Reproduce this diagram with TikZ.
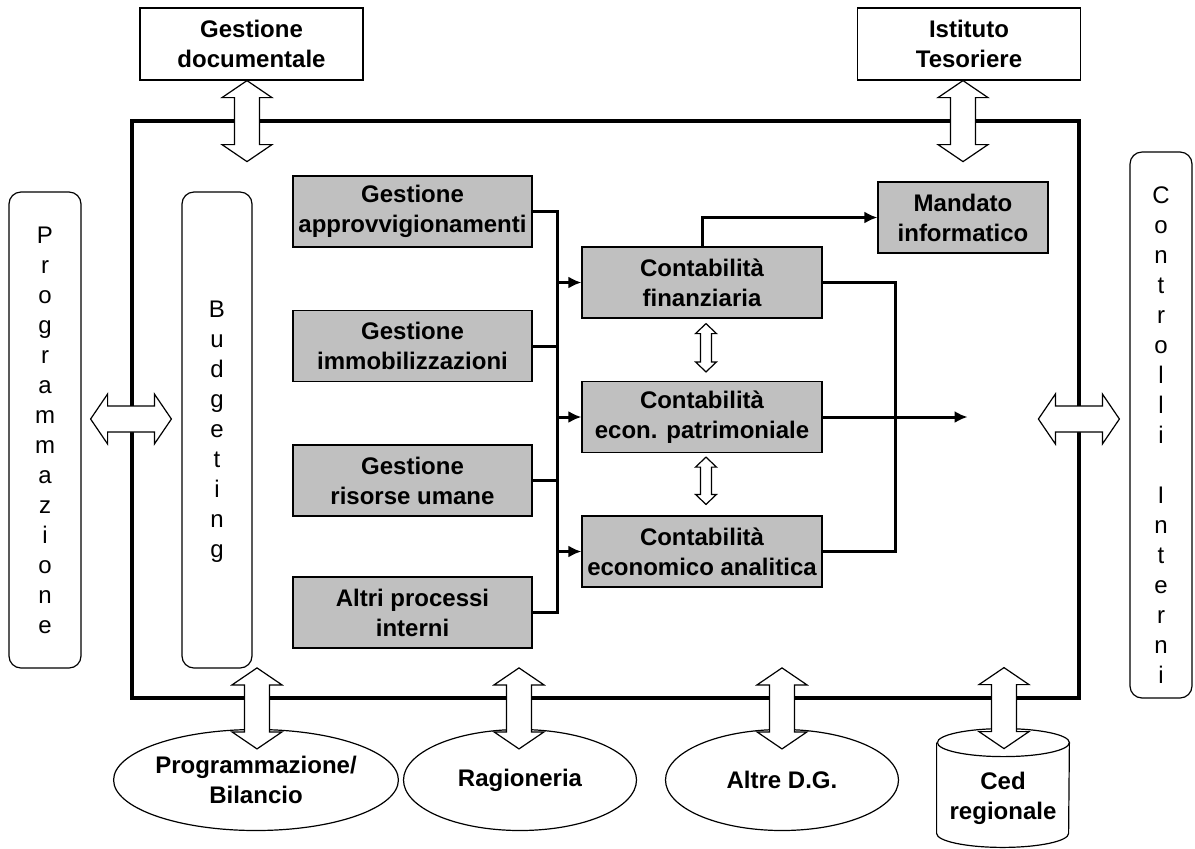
\documentclass[tikz,border=0pt]{standalone}
\usepackage{fontspec}
\setmainfont{Liberation Sans}
\usepackage{tikz}
\usetikzlibrary{shapes, arrows, arrows.meta, calc, positioning}

\definecolor{boxgray}{HTML}{C0C0C0}

% white double block arrows, drawn between two points
\newcommand{\dblV}[5]{%
	\filldraw[blockarr] let \p1=#1, \p2=#2 in
		(\x1,\y1) -- (\x1+#3,\y1-#5) -- (\x1+#4,\y1-#5) -- (\x1+#4,\y2+#5) -- (\x1+#3,\y2+#5)
		-- (\x1,\y2) -- (\x1-#3,\y2+#5) -- (\x1-#4,\y2+#5) -- (\x1-#4,\y1-#5) -- (\x1-#3,\y1-#5) -- cycle;}
\newcommand{\dblH}[5]{%
	\filldraw[blockarr] let \p1=#1, \p2=#2 in
		(\x1,\y1) -- (\x1+#5,\y1+#3) -- (\x1+#5,\y1+#4) -- (\x2-#5,\y1+#4) -- (\x2-#5,\y1+#3)
		-- (\x2,\y1) -- (\x2-#5,\y1-#3) -- (\x2-#5,\y1-#4) -- (\x1+#5,\y1-#4) -- (\x1+#5,\y1-#3) -- cycle;}

\begin{document}
\begin{tikzpicture}[>={Latex[length=6.5pt,width=6pt]}, x=0.5pt, y=-0.5pt, font=\fontsize{12}{15}\selectfont]
	\tikzstyle{extbox} = [draw, line width=0.6pt, fill=white, align=center, font=\fontsize{12}{15}\selectfont\bfseries, minimum width=111.5pt, minimum height=36pt, inner sep=0pt]
	\tikzstyle{procbox} = [draw, line width=0.6pt, fill=boxgray, align=center, font=\fontsize{12}{15}\selectfont\bfseries, minimum width=119.5pt, minimum height=35.5pt, inner sep=0pt]
	\tikzstyle{sidebox} = [draw, line width=0.6pt, rounded corners=6pt, align=center, minimum height=238pt, inner sep=0pt]
	\tikzstyle{office} = [draw, line width=0.6pt, ellipse, fill=white, align=center, font=\fontsize{12}{15}\selectfont\bfseries, minimum width=116.5pt, minimum height=50.5pt, inner sep=0pt]
	\tikzstyle{conn} = [line width=1.5pt]
	\tikzstyle{blockarr} = [draw=black, fill=white, line width=0.6pt, line join=miter]

	\useasboundingbox (0,0) rectangle (1195,848);

	% outer frame
	\draw[line width=2pt] (132,121) rectangle (1079,698);

	% external partners
	\node[extbox] (doc) at (251.5,44) {Gestione\\documentale};
	\node[extbox] (ist) at (969,44) {Istituto\\Tesoriere};

	\node[sidebox, minimum width=36pt] (prog) at (45,430) {P\\r\\o\\g\\r\\a\\m\\m\\a\\z\\i\\o\\n\\e};
	\node[sidebox, minimum width=35pt] (bud) at (217,430) {};
	\node[align=center] (budtxt) at ($(bud.center)+(0,2)$) {B\\u\\d\\g\\e\\t\\i\\n\\g};
	\node[sidebox, minimum width=31pt, minimum height=273pt] (ctrl) at (1161,425) {};
	\node[align=center] (ctrltxt) at ($(ctrl.center)+(0,10)$) {C\\o\\n\\t\\r\\o\\l\\l\\i\\[15pt]I\\n\\t\\e\\r\\n\\i};

	% internal processes
	\node[procbox] (ga) at (412.5,211.5) {Gestione\\approvvigionamenti};
	\node[procbox] (gi) at (412.5,346) {Gestione\\immobilizzazioni};
	\node[procbox] (gr) at (412.5,480.5) {Gestione\\risorse umane};
	\node[procbox] (ap) at (412.5,612.5) {Altri processi\\interni};

	\node[procbox, minimum width=120pt] (cf) at (702,282.5) {Contabilità\\finanziaria};
	\node[procbox, minimum width=120pt] (cp) at (702,417) {Contabilità\\econ. patrimoniale};
	\node[procbox, minimum width=120pt] (ca) at (702,551.5) {Contabilità\\economico analitica};
	\node[procbox, minimum width=85pt] (mi) at (963,217.5) {Mandato\\informatico};

	% offices below
	\node[office] (pb) at (256,780) {Programmazione/\\Bilancio};
	\node[office] (rag) at (520,780) {Ragioneria};
	\node[office] (adg) at (782,780) {Altre D.G.};
	\node[minimum width=66pt, minimum height=59pt, inner sep=0pt] (ced) at (1003,788) {};
	\draw[line width=0.6pt] ($(ced.north west)+(0,14)$) -- ($(ced.south west)+(0,-14)$)
		arc[start angle=180, end angle=360, x radius=33pt, y radius=7pt]
		-- ($(ced.north east)+(0,14)$)
		arc[start angle=0, end angle=180, x radius=33pt, y radius=7pt];
	\draw[line width=0.6pt] ($(ced.north east)+(0,14)$) arc[start angle=0, end angle=-180, x radius=33pt, y radius=7pt];
	\node[align=center, font=\fontsize{12}{15}\selectfont\bfseries] (cedtxt) at ($(ced.center)+(0,10)$) {Ced\\regionale};

	% connectors
	\coordinate (bus) at ($(ga.east)!0.5!(cf.west)$);
	\draw[conn] (ga.east) -- (bus |- ga.east) -- (bus |- ap.east) -- (ap.east);
	\draw[conn] (gi.east) -- (gi.east -| bus);
	\draw[conn] (gr.east) -- (gr.east -| bus);
	\draw[conn, ->] (cf.west -| bus) -- (cf.west);
	\draw[conn, ->] (cp.west -| bus) -- (cp.west);
	\draw[conn, ->] (ca.west -| bus) -- (ca.west);

	\draw[conn, ->] (cf.north) |- (mi.west);
	\coordinate (rbus) at ($(cf.east)+(73,0)$);
	\draw[conn] (cf.east) -- (rbus) |- (ca.east);
	\coordinate (out) at ($(cp.east)+(145,0)$);
	\draw[conn, ->] (cp.east) -- (out);

	% block arrows
	\dblV{($(doc.south)+(-4.5,0)$)}{($(doc.south)+(-4.5,81)$)}{12.5pt}{6.25pt}{8.5pt}
	\dblV{($(ist.south)+(-6,0)$)}{($(ist.south)+(-6,81)$)}{12.5pt}{6.25pt}{8.5pt}
	\dblH{($(prog.east)+(9,-11)$)}{($(bud.west)+(-10,-11)$)}{12.5pt}{6.5pt}{8.5pt}
	\dblH{($(ctrl.west)+(-91,-6)$)}{($(ctrl.west)+(-10,-6)$)}{12.5pt}{6.5pt}{8.5pt}
	\dblV{($(pb.north)+(1,-61)$)}{($(pb.north)+(1,20)$)}{12.5pt}{6.25pt}{8.5pt}
	\dblV{($(rag.north)+(-1,-61)$)}{($(rag.north)+(-1,20)$)}{12.5pt}{6.25pt}{8.5pt}
	\dblV{($(adg.north)+(0,-61)$)}{($(adg.north)+(0,20)$)}{12.5pt}{6.25pt}{8.5pt}
	\dblV{($(ced.north)+(1,-61)$)}{($(ced.north)+(1,20)$)}{12.5pt}{6.25pt}{8.5pt}
	\dblV{($(cf.south)+(4,5)$)}{($(cp.north)+(4,-9)$)}{5.25pt}{2.75pt}{5pt}
	\dblV{($(cp.south)+(4,4)$)}{($(ca.north)+(4,-11)$)}{5.25pt}{2.75pt}{5pt}
\end{tikzpicture}
\end{document}
